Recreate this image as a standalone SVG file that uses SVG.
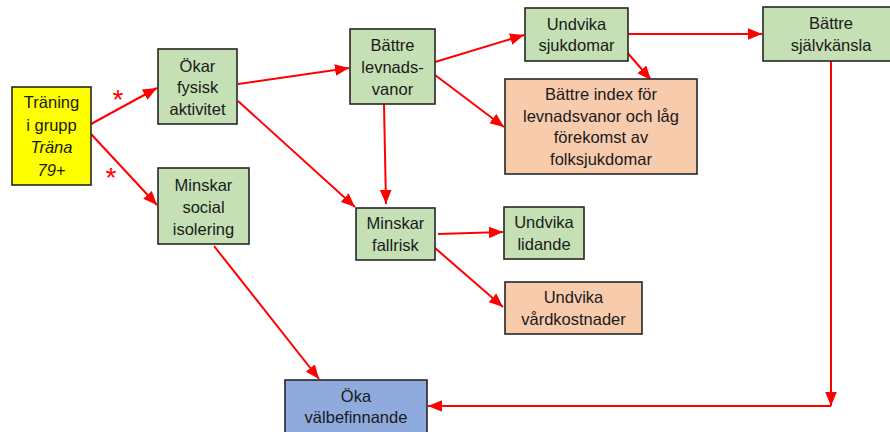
<svg xmlns="http://www.w3.org/2000/svg" width="890" height="432" viewBox="0 0 890 432">
<style>
.b{stroke:#262626;stroke-width:1.6}
.g{fill:#C5E0B4}.p{fill:#F8CBAD}.bl{fill:#8FAADC}.y{fill:#FFFF00}
text{font-family:"Liberation Sans",Arial,sans-serif;font-size:16.5px;fill:#1a1a1a;text-anchor:middle}
.c line,.c polyline{stroke:#FF0000;stroke-width:2;fill:none}
.ast{fill:#FF0000;font-size:28px}
</style>
<defs>
<marker id="a" markerUnits="userSpaceOnUse" markerWidth="14" markerHeight="12" refX="12" refY="5" orient="auto" viewBox="0 0 12 10">
<path d="M0,0 L12,5 L0,10 z" fill="#FF0000"/>
</marker>
</defs>
<rect width="890" height="432" fill="#fff"/>
<g class="c">
<line x1="91" y1="124" x2="157" y2="88" marker-end="url(#a)"/>
<line x1="91" y1="134" x2="157" y2="205" marker-end="url(#a)"/>
<line x1="238" y1="84" x2="349" y2="68" marker-end="url(#a)"/>
<line x1="238" y1="101" x2="355" y2="207" marker-end="url(#a)"/>
<line x1="435" y1="62" x2="524" y2="35" marker-end="url(#a)"/>
<line x1="435" y1="75" x2="504" y2="127" marker-end="url(#a)"/>
<line x1="384" y1="104" x2="386" y2="204" marker-end="url(#a)"/>
<line x1="628" y1="34" x2="762" y2="34" marker-end="url(#a)"/>
<line x1="626" y1="51" x2="651" y2="80" marker-end="url(#a)"/>
<line x1="438" y1="234" x2="503" y2="232" marker-end="url(#a)"/>
<line x1="435" y1="248" x2="503" y2="307" marker-end="url(#a)"/>
<line x1="214" y1="246" x2="319" y2="379" marker-end="url(#a)"/>
<line x1="831" y1="61" x2="831" y2="406" marker-end="url(#a)"/>
<line x1="831" y1="406" x2="428" y2="406" marker-end="url(#a)"/>
</g>
<text class="ast" x="118" y="109">*</text>
<text class="ast" x="111" y="187">*</text>
<g id="traning">
<rect class="b y" x="12" y="87" width="79" height="98"/>
<text x="51.5" y="108">Träning</text>
<text x="51.5" y="130.5">i grupp</text>
<text x="51.5" y="153" font-style="italic">Träna</text>
<text x="51.5" y="175.5" font-style="italic">79+</text>
</g>
<g id="okar">
<rect class="b g" x="158" y="49" width="79" height="75"/>
<text x="197.5" y="71.5">Ökar</text>
<text x="197.5" y="93">fysisk</text>
<text x="197.5" y="115">aktivitet</text>
</g>
<g id="social">
<rect class="b g" x="158" y="168" width="91" height="76"/>
<text x="203.5" y="191">Minskar</text>
<text x="203.5" y="212.5">social</text>
<text x="203.5" y="234.5">isolering</text>
</g>
<g id="levnad">
<rect class="b g" x="350" y="29" width="85" height="75"/>
<text x="392.5" y="51">Bättre</text>
<text x="392.5" y="72.5">levnads-</text>
<text x="392.5" y="94.5">vanor</text>
</g>
<g id="sjukdom">
<rect class="b g" x="525" y="8" width="103" height="53"/>
<text x="576.5" y="29.5">Undvika</text>
<text x="576.5" y="51">sjukdomar</text>
</g>
<g id="index">
<rect class="b p" x="505" y="79" width="192" height="95"/>
<text x="601" y="100">Bättre index för</text>
<text x="601" y="121.5">levnadsvanor och låg</text>
<text x="601" y="143">förekomst av</text>
<text x="601" y="165">folksjukdomar</text>
</g>
<g id="sjalv">
<rect class="b g" x="763" y="7" width="136" height="54"/>
<text x="831" y="29">Bättre</text>
<text x="831" y="51">självkänsla</text>
</g>
<g id="fallrisk">
<rect class="b g" x="356" y="208" width="79" height="52"/>
<text x="395.5" y="228.5">Minskar</text>
<text x="395.5" y="250.5">fallrisk</text>
</g>
<g id="lidande">
<rect class="b g" x="504" y="207" width="80" height="52"/>
<text x="544" y="228">Undvika</text>
<text x="544" y="250">lidande</text>
</g>
<g id="vard">
<rect class="b p" x="505" y="282" width="137" height="52"/>
<text x="573.5" y="303">Undvika</text>
<text x="573.5" y="325">vårdkostnader</text>
</g>
<g id="oka">
<rect class="b bl" x="285" y="380" width="142" height="60"/>
<text x="356" y="401.5">Öka</text>
<text x="356" y="423">välbefinnande</text>
</g>
</svg>
